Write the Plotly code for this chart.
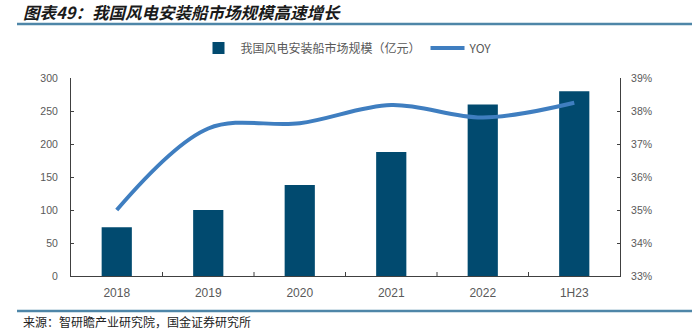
import plotly.graph_objects as go

categories = ["2018", "2019", "2020", "2021", "2022", "1H23"]
market_size = [74, 100, 138, 188, 260, 280]
yoy = [0.350, 0.3747, 0.3763, 0.3818, 0.378, 0.3825]

bar_name = "我国风电安装船市场规模（亿元）"
line_name = "YOY"
title_text = "图表49：我国风电安装船市场规模高速增长"
source_text = "来源：智研瞻产业研究院，国金证券研究所"

W, H = 692, 329
L, R, T, B = 71, 72, 78, 53
pw, ph = W - L - R, H - T - B

def px_x(px):
    return (px - L) / pw

def px_y(py):
    return (H - B - py) / ph

axis_col = "#404040"
tick_col = "#595959"
cjk = "Noto Sans CJK SC"
latin = "Liberation Sans, Arial"

fig = go.Figure()
fig.add_trace(go.Bar(
    x=categories, y=market_size, name=bar_name,
    marker=dict(color="#014A6F", line=dict(width=0)),
    width=0.33, yaxis="y",
))
fig.add_trace(go.Scatter(
    x=categories, y=yoy, name=line_name, mode="lines",
    line=dict(color="#3F7EC0", width=4, shape="spline", smoothing=1.0),
    yaxis="y2",
))

fig.update_layout(
    width=W, height=H,
    margin=dict(l=L, r=R, t=T, b=B, pad=0),
    paper_bgcolor="white", plot_bgcolor="white",
    showlegend=True,
    legend=dict(
        orientation="h", x=px_x(347), xanchor="center", y=px_y(48), yanchor="middle",
        font=dict(family=cjk, size=12, color=tick_col),
        itemwidth=34,
        bgcolor="rgba(0,0,0,0)", traceorder="normal",
    ),
    xaxis=dict(
        type="category", showline=True, linecolor=axis_col, linewidth=1,
        ticks="", showgrid=False, zeroline=False,
        tickfont=dict(family=latin, size=12, color=tick_col),
        ticklabelstandoff=6,
    ),
    yaxis=dict(
        range=[0, 300], dtick=50, showline=True, linecolor=axis_col, linewidth=1,
        ticks="inside", ticklen=3, tickcolor=axis_col, showgrid=False, zeroline=False,
        tickfont=dict(family=latin, size=10.5, color=tick_col),
        ticklabelstandoff=10,
    ),
    yaxis2=dict(
        range=[0.33, 0.39], dtick=0.01, tickformat=".0%", overlaying="y", side="right",
        showline=True, linecolor=axis_col, linewidth=1,
        ticks="inside", ticklen=3, tickcolor=axis_col, showgrid=False, zeroline=False,
        tickfont=dict(family=latin, size=10.5, color=tick_col),
        ticklabelstandoff=8,
    ),
)

# category boundary ticks on x axis (inside)
for i in range(1, len(categories)):
    fig.add_shape(type="line", xref="x", yref="paper",
                  x0=i - 0.5, x1=i - 0.5, y0=0, y1=4 / ph,
                  line=dict(color=axis_col, width=1))

# title, rules and source
fig.add_annotation(
    text="<b><i>" + title_text + "</i></b>", xref="paper", yref="paper",
    x=px_x(21), y=px_y(12), xanchor="left", yanchor="middle", showarrow=False,
    font=dict(family=cjk, size=16.5, color="#1a1a1a"),
)
fig.add_shape(type="line", xref="paper", yref="paper",
              x0=px_x(17), x1=px_x(692), y0=px_y(24), y1=px_y(24),
              line=dict(color="#4E86A8", width=2.5))
fig.add_shape(type="line", xref="paper", yref="paper",
              x0=px_x(17), x1=px_x(692), y0=px_y(311), y1=px_y(311),
              line=dict(color="#4E86A8", width=2.5))
fig.add_annotation(
    text=source_text, xref="paper", yref="paper",
    x=px_x(21), y=px_y(321), xanchor="left", yanchor="middle", showarrow=False,
    font=dict(family=cjk, size=12, color="#222222"),
)

fig.write_html("out.html")
